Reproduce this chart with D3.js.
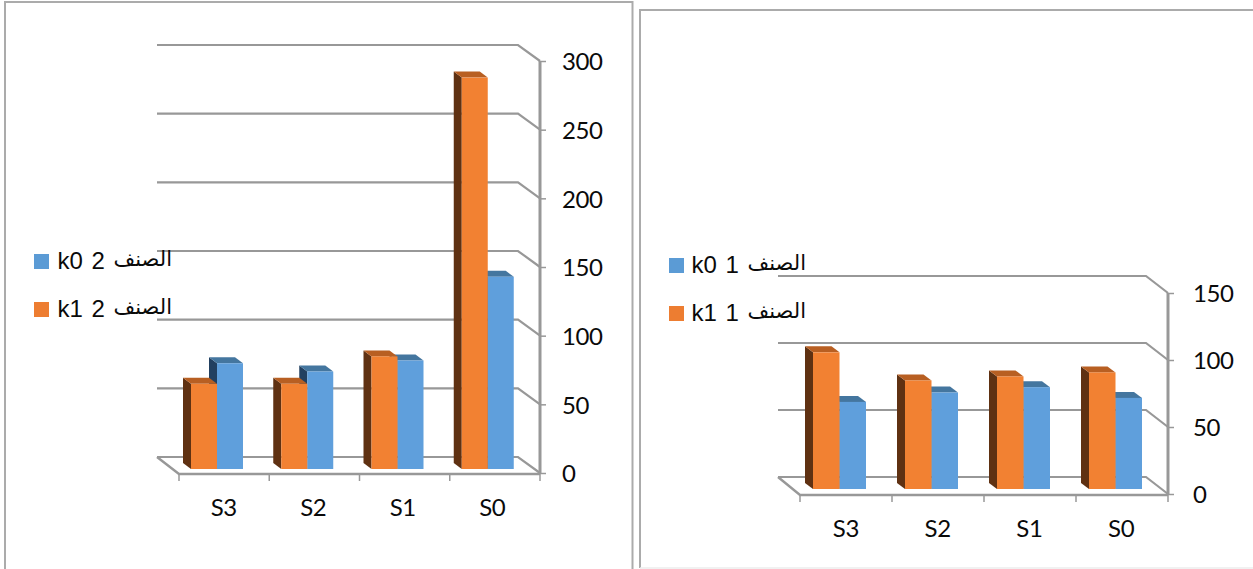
<!DOCTYPE html>
<html>
<head>
<meta charset="utf-8">
<style>
  html, body { margin: 0; padding: 0; background: #fff; }
  svg { display: block; }
  .val text, .cat text { font-family: Lato, "Open Sans", sans-serif; fill: #0a0a0a; letter-spacing: -0.4px; }
  .legend text { font-family: "Liberation Sans", "DejaVu Sans", sans-serif; fill: #0a0a0a; }
</style>
</head>
<body>
<svg id="chart" width="1253" height="569"></svg>
<script src="https://cdn.jsdelivr.net/npm/d3@7/dist/d3.min.js"></script>
<script>
// Shared categories and series keys
const categories = ["S3", "S2", "S1", "S0"];
const seriesKeys = ["k1", "k0"];

// Group 2 (left panel)
const group2K0 = [77, 71, 79, 140];
const group2K1 = [62, 62, 82, 285];
const group2Ticks = [0, 50, 100, 150, 200, 250, 300];
const group2Legend = [["الصنف", " 2 k0"], ["الصنف", " 2 k1"]];

// Group 1 (right panel)
const group1K0 = [65, 72, 76, 68];
const group1K1 = [102, 81, 84, 87];
const group1Ticks = [0, 50, 100, 150];
const group1Legend = [["الصنف", " 1 k0"], ["الصنف", " 1 k1"]];

const palette = {
  k0: { face: "#5F9FDC", top: "#44769F", side: "#224060", key: "#5B9BD5" },
  k1: { face: "#F28132", top: "#B85F22", side: "#5F3112", key: "#ED7D31" }
};
const GRID = "#989898";
const FRAME = "#ABABAB";

const svg = d3.select("#chart");

// Panel border; the lower edge of the right panel is only a faint hairline
function panelFrame(x, y, x2, y2, bottomColor) {
  svg.append("path")
    .attr("fill", "none").attr("stroke", FRAME).attr("stroke-width", 2)
    .attr("d", `M${x},${y2}V${y}H${x2}V${y2}`);
  if (bottomColor) {
    svg.append("line").attr("x1", x).attr("x2", x2).attr("y1", y2).attr("y2", y2)
      .attr("stroke", bottomColor).attr("stroke-width", 1.5);
  }
}

// Draws one pseudo-3D clustered column chart with a receding floor and wall
function columnChart(o) {
  const g = svg.append("g");
  const x = d3.scaleBand().domain(categories).range([o.left, o.right]);
  const y = d3.scaleLinear().domain(o.domain).range([o.bottom, o.top]);
  const inner = d3.scaleBand().domain(seriesKeys).range([0, o.barW * 2]);
  const yMax = o.domain[1];
  const backX0 = o.left - o.depthX, backX1 = o.right - o.depthX;

  // Wall gridlines: run along the back, then slant forward to the value axis
  const wall = d3.line();
  g.append("g").selectAll("path").data(o.ticks).join("path")
    .attr("fill", "none").attr("stroke", GRID)
    .attr("stroke-width", 2.2)
    .attr("d", d => wall([
      [backX0, y(d) - o.depthY],
      [backX1, y(d) - o.depthY],
      [o.right, y(d)]
    ]));

  // Floor edges
  g.append("path").attr("fill", "none").attr("stroke", GRID).attr("stroke-width", 2.4)
    .attr("d", wall([[backX0, y(0) - o.depthY], [o.left, y(0) + 1], [o.right, y(0) + 1]]));

  // Value axis on the right side
  const valAxis = d3.axisRight(y).tickValues(o.ticks).tickSize(6).tickPadding(o.valPad).tickFormat(d3.format("d"));
  const va = g.append("g").attr("class", "val").attr("transform", `translate(${o.right},0)`).call(valAxis);
  va.select(".domain").attr("stroke", GRID).attr("stroke-width", 3).attr("d", `M0,${y(yMax)}V${y(0) + 1}`);
  va.selectAll(".tick line").attr("stroke", GRID).attr("stroke-width", 1.5);
  va.selectAll("text").attr("font-size", 24).attr("dy", "0.37em");

  // Category axis: labels sit on their own slightly tighter band scale, tick marks at band edges
  const labelBand = d3.scaleBand().domain(categories).range([o.left, o.labelRight]);
  const catAxis = d3.axisBottom(labelBand).tickSize(0).tickPadding(o.catPad);
  const ca = g.append("g").attr("class", "cat").attr("transform", `translate(0,${y(0)})`).call(catAxis);
  ca.select(".domain").remove();
  ca.selectAll("text").attr("font-size", 24);
  g.append("g").selectAll("line")
    .data(d3.range(categories.length + 1))
    .join("line")
    .attr("x1", i => o.left + i * x.step()).attr("x2", i => o.left + i * x.step())
    .attr("y1", y(0) + 1).attr("y2", y(0) + 8)
    .attr("stroke", GRID).attr("stroke-width", 1.5);

  // Columns: k0 first so the k1 column overlaps its side face
  const barBase = y(0) - o.lift;
  const line = d3.line();
  ["k0", "k1"].forEach(key => {
    const vals = key === "k0" ? o.k0 : o.k1;
    const c = palette[key];
    const bars = g.append("g").selectAll("g").data(categories).join("g");
    const left = (d) => x(d) + o.barOffset + inner(key);
    const top = (i) => y(vals[i]) - o.lift;
    const dx = o.barDX, dy = o.barDY, w = inner.bandwidth();

    bars.append("path").attr("fill", c.side)
      .attr("d", (d, i) => line([
        [left(d), top(i)], [left(d) - dx, top(i) - dy],
        [left(d) - dx, barBase - dy], [left(d), barBase]
      ]) + "Z");
    bars.append("path").attr("fill", c.top)
      .attr("d", (d, i) => line([
        [left(d), top(i)], [left(d) + w, top(i)],
        [left(d) + w - dx, top(i) - dy], [left(d) - dx, top(i) - dy]
      ]) + "Z");
    bars.append("rect").attr("fill", c.face)
      .attr("x", left).attr("y", (d, i) => top(i))
      .attr("width", w).attr("height", (d, i) => barBase - top(i));
  });

  // Legend, right-to-left so the Arabic word sits after the series key
  const lg = g.append("g").attr("class", "legend");
  o.legend.forEach((label, i) => {
    const key = i === 0 ? "k0" : "k1";
    const cy = o.legendY + i * o.legendStep;
    lg.append("rect").attr("x", o.legendX).attr("y", cy - 7.5)
      .attr("width", 15).attr("height", 15).attr("fill", palette[key].key);
    const t = lg.append("text").attr("x", o.legendEnd).attr("y", cy + 7)
      .attr("direction", "rtl").attr("text-anchor", "start").attr("font-size", 24);
    t.append("tspan").attr("font-size", 21).attr("dy", -3).text(label[0]);
    t.append("tspan").attr("dy", 3).attr("word-spacing", 2).text(label[1]);
  });
}

panelFrame(5, 2, 632.5, 600);
panelFrame(640, 10, 1290, 568, "#EDEDED");

columnChart({
  left: 179, right: 540, labelRight: 537, top: 61, bottom: 473, domain: [0, 300],
  depthX: 22, depthY: 16, lift: 4, barW: 26, barOffset: 12, barDX: 8, barDY: 6,
  valPad: 16, catPad: 26, ticks: group2Ticks, k0: group2K0, k1: group2K1,
  legend: group2Legend, legendX: 34, legendEnd: 172, legendY: 261.5, legendStep: 48
});

columnChart({
  left: 800, right: 1168, labelRight: 1167, top: 293, bottom: 494, domain: [0, 150],
  depthX: 22, depthY: 17, lift: 5, barW: 26.5, barOffset: 13, barDX: 8, barDY: 6,
  valPad: 19, catPad: 26, ticks: group1Ticks, k0: group1K0, k1: group1K1,
  legend: group1Legend, legendX: 669, legendEnd: 806, legendY: 265.5, legendStep: 48
});
</script>
</body>
</html>
